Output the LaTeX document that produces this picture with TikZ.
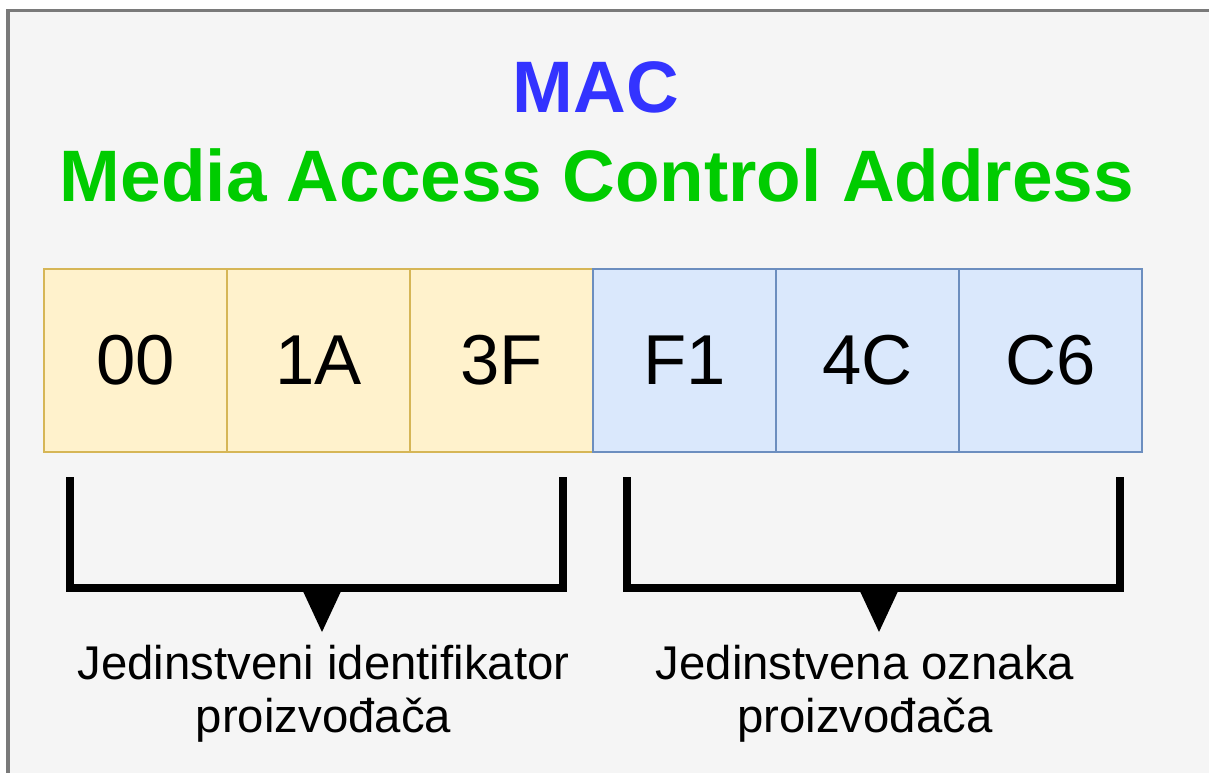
\documentclass[tikz,border=0pt]{standalone}
\usepackage{fontspec}
\setmainfont{Liberation Sans}
\usepackage{tikz}
\usetikzlibrary{calc}
\definecolor{framegray}{HTML}{7A7A7A}
\definecolor{bggray}{HTML}{F5F5F5}
\definecolor{ouifill}{HTML}{FFF2CC}
\definecolor{ouidraw}{HTML}{D6B656}
\definecolor{nicfill}{HTML}{DAE8FC}
\definecolor{nicdraw}{HTML}{6C8EBF}
\definecolor{macblue}{HTML}{3333FF}
\definecolor{macgreen}{HTML}{00CC00}
\tikzset{
  cell/.style={draw, line width=2.1pt, minimum width=137.25pt, minimum height=137.25pt,
    inner sep=0pt, font=\fontsize{53}{60}\selectfont},
  oui/.style={cell, fill=ouifill, draw=ouidraw},
  nic/.style={cell, fill=nicfill, draw=nicdraw},
  title/.style={anchor=base, font=\fontsize{54.7}{62}\selectfont\bfseries},
  lbl/.style={anchor=base, font=\fontsize{35.5}{40}\selectfont},
  brace/.style={line width=5.6pt, line join=miter}
}
\begin{document}
\begin{tikzpicture}[x=0.75pt,y=-0.75pt]
            \useasboundingbox (0,0) rectangle (1209,773);
            \fill[white] (0,0) rectangle (1209,773);
            \draw[framegray, line width=2.6pt, fill=bggray] (8,10.5) rectangle (1240,800);

            \node (mac) at (596,113) [title, text=macblue] {MAC};
            \node (full) at (597,202) [title, text=macgreen] {Media Access Control Address};

            \node (b1) at (135.5,360.5) [oui] {00};
            \node (b2) at (318.5,360.5) [oui] {1A};
            \node (b3) at (501.5,360.5) [oui] {3F};
            \node (b4) at (684.5,360.5) [nic] {F1};
            \node (b5) at (867.5,360.5) [nic] {4C};
            \node (b6) at (1050.5,360.5) [nic] {C6};

            % left brace
            \coordinate (la) at (70,477);
            \coordinate (lb) at (70,588);
            \coordinate (lc) at (563,588);
            \coordinate (ld) at (563,477);
            \coordinate (lt) at (322,632);
            \draw[brace] (la) -- (lb) -- (lc) -- (ld);
            \fill ($(lt)+(-20.5,-44)$) -- ($(lt)+(20.5,-44)$) -- (lt) -- cycle;

            % right brace
            \coordinate (ra) at (627,477);
            \coordinate (rb) at (627,588);
            \coordinate (rc) at (1120,588);
            \coordinate (rd) at (1120,477);
            \coordinate (rt) at (879,632);
            \draw[brace] (ra) -- (rb) -- (rc) -- (rd);
            \fill ($(rt)+(-20.5,-44)$) -- ($(rt)+(20.5,-44)$) -- (rt) -- cycle;

            \node (oui1) at (323.5,679) [lbl] {Jedinstveni identifikator};
            \node (oui2) at (323.5,732) [lbl] {proizvođača};
            \node (nic1) at (865,679) [lbl] {Jedinstvena oznaka};
            \node (nic2) at (865,732) [lbl] {proizvođača};
          \end{tikzpicture}
\end{document}
